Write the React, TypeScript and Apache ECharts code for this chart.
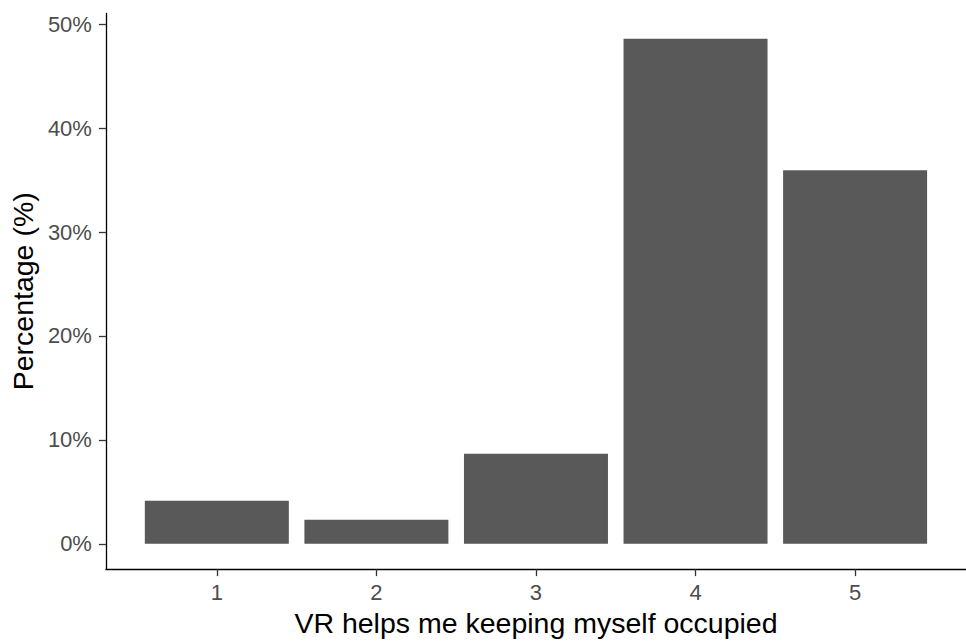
import React, { useEffect, useRef } from "react";
import * as echarts from "echarts";

const categories = [1, 2, 3, 4, 5];
const percentages = [4.15, 2.33, 8.66, 48.6, 35.95];
const yTicks = [0, 10, 20, 30, 40, 50];
const xTitle = "VR helps me keeping myself occupied";
const yTitle = "Percentage (%)";

const FONT = "'Liberation Sans', Arial, Helvetica, sans-serif";

export default function App() {
  const ref = useRef<HTMLDivElement>(null);
  useEffect(() => {
    document.body.style.margin = "0";
    const chart = echarts.init(ref.current!, null, { renderer: "svg" });
    const maxV = Math.max(...percentages);
    const yPad = maxV * 0.05;
    const barW = 0.9;
    const lo = Math.min(...categories) - barW / 2;
    const hi = Math.max(...categories) + barW / 2;
    const xPad = (hi - lo) * 0.05;
    chart.setOption({
      animation: false,
      grid: { left: 104.5, right: -1, top: 13.5, bottom: 71 },
      xAxis: {
        type: "value",
        min: lo - xPad,
        max: hi + xPad,
        name: xTitle,
        nameLocation: "middle",
        nameGap: 38,
        nameTextStyle: { fontFamily: FONT, fontSize: 28.5, color: "#000" },
        splitLine: { show: false },
        axisLine: { show: true, onZero: false, lineStyle: { color: "#000", width: 1.3 } },
        axisTick: { show: true, length: 7, customValues: categories, lineStyle: { color: "#333", width: 1.3 } },
        axisLabel: {
          customValues: categories,
          formatter: (v: number) => String(v),
          fontFamily: FONT,
          fontSize: 22,
          color: "#4d4d4d",
          margin: 12,
        },
      },
      yAxis: {
        type: "value",
        min: -yPad,
        max: maxV + yPad,
        name: yTitle,
        nameLocation: "middle",
        nameGap: 66,
        nameTextStyle: { fontFamily: FONT, fontSize: 28.5, color: "#000" },
        splitLine: { show: false },
        axisLine: { show: true, lineStyle: { color: "#000", width: 1.3 } },
        axisTick: { show: true, length: 7, customValues: yTicks, lineStyle: { color: "#333", width: 1.3 } },
        axisLabel: {
          customValues: yTicks,
          formatter: (v: number) => `${v}%`,
          fontFamily: FONT,
          fontSize: 22,
          color: "#4d4d4d",
          margin: 14,
        },
      },
      series: [
        {
          type: "bar",
          data: categories.map((c, i) => [c, percentages[i]]),
          barWidth: 144,
          itemStyle: { color: "#595959" },
        },
      ],
    });
    return () => chart.dispose();
  }, []);
  return <div ref={ref} style={{ width: 966, height: 642 }} />;
}
